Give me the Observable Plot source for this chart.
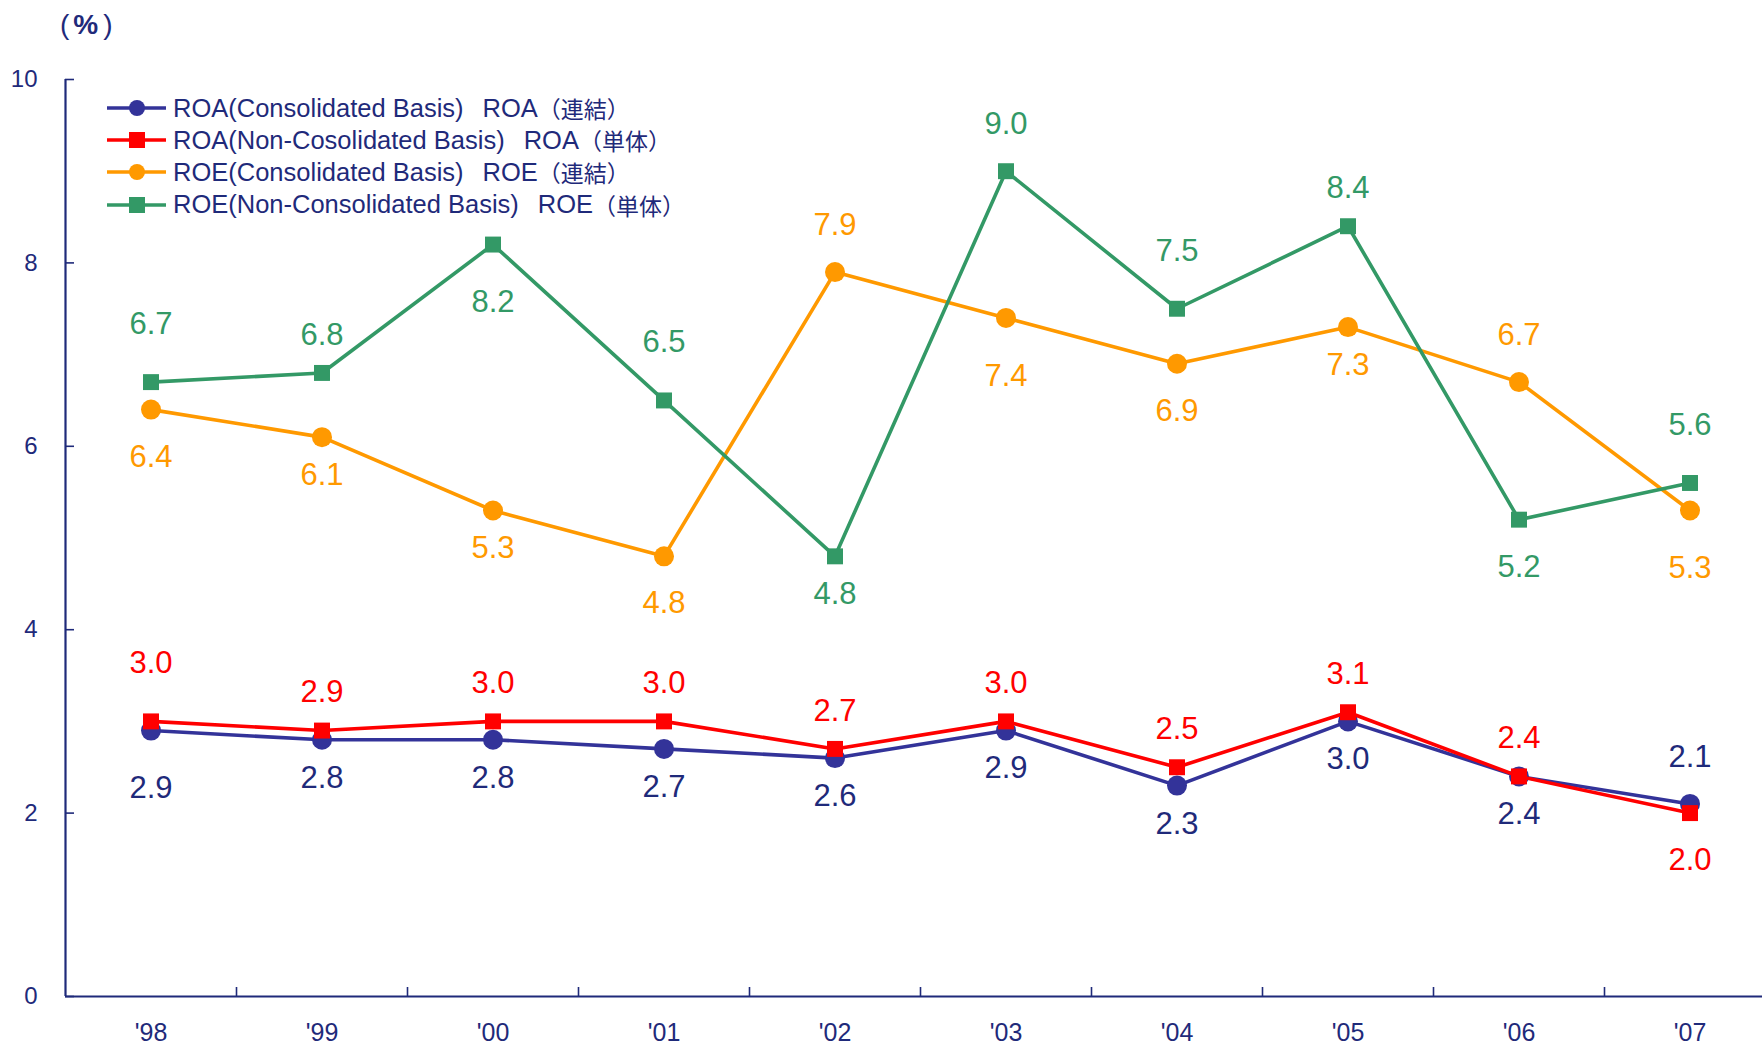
<!DOCTYPE html>
<html><head><meta charset="utf-8">
<script src="https://cdn.jsdelivr.net/npm/d3@7"></script>
<script src="https://cdn.jsdelivr.net/npm/@observablehq/plot@0.6"></script>
<style>
body{margin:0;background:#fff;}
#wrap{position:relative;width:1762px;height:1045px;font-family:"Liberation Sans",Arial,"Noto Sans CJK JP",sans-serif;color:#1f2a7a;}
#unit{position:absolute;left:60px;top:5px;font-size:28px;line-height:40px;color:#1f2a7a;white-space:pre;font-family:"Liberation Sans",Arial,sans-serif;}
#unit .p{font-weight:normal;}
#unit .pc{font-weight:bold;margin:0 5px 0 4px;}
#legend{position:absolute;left:107px;top:92px;}
.row{display:flex;align-items:center;height:32.2px;font-size:25.5px;white-space:pre;color:#1f2a7a;}
.row svg{margin-right:6px;}
.row .gap{display:inline-block;width:19px;}
.row .cjk{font-family:"Noto Sans CJK JP",sans-serif;font-size:23px;}
#chart{position:absolute;left:0;top:0;}
</style></head>
<body>
<div id="wrap">
  <div id="chart"></div>
  <div id="unit"><span class="p">(</span><span class="pc">%</span><span class="p">)</span></div>
  <div id="legend"></div>
</div>
<script>
// ---- data ----
const years = [1998, 1999, 2000, 2001, 2002, 2003, 2004, 2005, 2006, 2007];
const yearLabels = ["'98", "'99", "'00", "'01", "'02", "'03", "'04", "'05", "'06", "'07"];
const yTicks = [0, 2, 4, 6, 8, 10];

const roaConsolidated    = [2.9, 2.8, 2.8, 2.7, 2.6, 2.9, 2.3, 3.0, 2.4, 2.1];
const roaNonConsolidated = [3.0, 2.9, 3.0, 3.0, 2.7, 3.0, 2.5, 3.1, 2.4, 2.0];
const roeConsolidated    = [6.4, 6.1, 5.3, 4.8, 7.9, 7.4, 6.9, 7.3, 6.7, 5.3];
const roeNonConsolidated = [6.7, 6.8, 8.2, 6.5, 4.8, 9.0, 7.5, 8.4, 5.2, 5.6];

const seriesEnglish = [
  "ROA(Consolidated Basis)",
  "ROA(Non-Cosolidated Basis)",
  "ROE(Consolidated Basis)",
  "ROE(Non-Consolidated Basis)"
];
const seriesShort = ["ROA", "ROA", "ROE", "ROE"];
const seriesJapanese = ["（連結）", "（単体）", "（連結）", "（単体）"];

// label placement: a = above, b = below; 1 near, 2 middle, 3 far
const roaConsolidatedLabelPos    = ["b3","b1","b1","b1","b1","b1","b1","b1","b1","a2"];
const roaNonConsolidatedLabelPos = ["a3","a1","a1","a1","a1","a1","a1","a1","a1","b2"];
const roeConsolidatedLabelPos    = ["b2","b1","b1","b2","a2","b3","b2","b1","a2","b3"];
const roeNonConsolidatedLabelPos = ["a3","a1","b3","a3","b1","a2","a3","a1","b2","a3"];

// ---- styles ----
const textNavy = "#1f2a7a";
const gaps = {1: 38, 2: 47, 3: 58};
const series = [
  {i: 0, values: roaConsolidated,    pos: roaConsolidatedLabelPos,    color: "#333399", label: textNavy,  symbol: "circle", r: 10},
  {i: 1, values: roaNonConsolidated, pos: roaNonConsolidatedLabelPos, color: "#FF0000", label: "#FF0000", symbol: "square", r: 9},
  {i: 2, values: roeConsolidated,    pos: roeConsolidatedLabelPos,    color: "#FF9900", label: "#FF9900", symbol: "circle", r: 10},
  {i: 3, values: roeNonConsolidated, pos: roeNonConsolidatedLabelPos, color: "#339966", label: "#339966", symbol: "square", r: 9}
];

const marks = [];
const x0 = 1997.5;
const boundaries = years.slice(0, -1).map(y => y + 0.5);

// axes
marks.push(Plot.ruleY([0], {stroke: textNavy, strokeWidth: 2.2}));
marks.push(Plot.ruleX([x0], {y1: 0, y2: 10, stroke: textNavy, strokeWidth: 2.2}));
marks.push(Plot.ruleY(yTicks, {y: d => d, x1: x0, x2: x0, insetRight: -9, stroke: textNavy, strokeWidth: 1.6}));
marks.push(Plot.ruleX(boundaries, {x: d => d, y1: 0, y2: 0, insetTop: -9, stroke: textNavy, strokeWidth: 1.6}));
marks.push(Plot.axisY({ticks: yTicks, tickSize: 0, tickPadding: 28, fontSize: 24, color: textNavy, label: null}));
marks.push(Plot.axisX({ticks: years, tickFormat: d => yearLabels[years.indexOf(d)], tickSize: 0, tickPadding: 27, fontSize: 25, color: textNavy, label: null}));

for (const s of series) {
  const rows = years.map((yr, i) => ({year: yr, value: s.values[i], pos: s.pos[i]}));
  marks.push(Plot.line(rows, {x: "year", y: "value", stroke: s.color, strokeWidth: 3.6, curve: "linear"}));
  marks.push(Plot.dot(rows, {x: "year", y: "value", symbol: s.symbol, r: s.r, fill: s.color, stroke: "none"}));
  for (const code of ["a1","a2","a3","b1","b2","b3"]) {
    const sub = rows.filter(r => r.pos === code);
    if (!sub.length) continue;
    const sign = code[0] === "a" ? -1 : 1;
    marks.push(Plot.text(sub, {x: "year", y: "value", text: d => d.value.toFixed(1),
      dy: sign * gaps[+code[1]], fill: s.label, fontSize: 31}));
  }
}

const chart = Plot.plot({
  width: 1762, height: 1045,
  marginTop: 79, marginBottom: 49, marginLeft: 65, marginRight: 0,
  x: {type: "linear", domain: [1997.5, 2007.5], range: [65, 1775]},
  y: {domain: [0, 10]},
  style: {fontFamily: '"Liberation Sans", Arial, "Noto Sans CJK JP", sans-serif', background: "#fff", color: textNavy, overflow: "visible"},
  marks
});
document.getElementById("chart").appendChild(chart);

// legend
const legend = document.getElementById("legend");
for (const s of series) {
  const row = document.createElement("div");
  row.className = "row";
  const sq = s.symbol === "square";
  row.innerHTML = `<svg width="60" height="24"><line x1="0" x2="59" y1="12" y2="12" stroke="${s.color}" stroke-width="3.6"/>` +
    (sq ? `<rect x="${30-8}" y="4" width="16" height="16" fill="${s.color}"/>` : `<circle cx="30" cy="12" r="8" fill="${s.color}"/>`) +
    `</svg><span>${seriesEnglish[s.i]}</span><span class="gap"></span><span>${seriesShort[s.i]}</span><span class="cjk">${seriesJapanese[s.i]}</span>`;
  legend.appendChild(row);
}
</script>
</body></html>
